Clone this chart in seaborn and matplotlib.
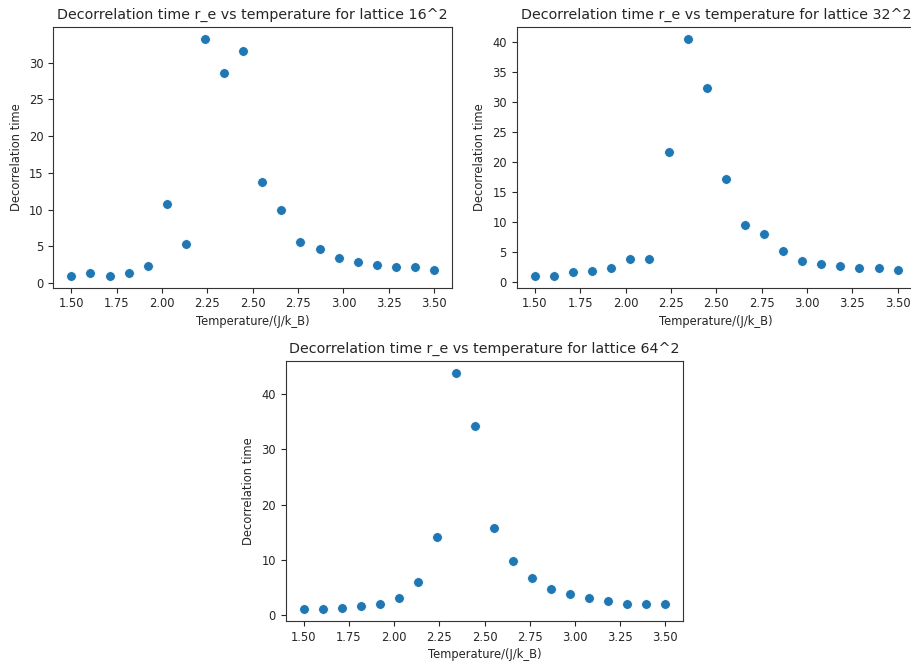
import matplotlib
matplotlib.use("Agg")
import matplotlib.pyplot as plt
import seaborn as sns
import pandas as pd

temperature = [1.5, 1.605, 1.711, 1.816, 1.921, 2.026, 2.132, 2.237, 2.342, 2.447,
               2.553, 2.658, 2.763, 2.868, 2.974, 3.079, 3.184, 3.289, 3.395, 3.5]

tau_16 = [1.0, 1.35, 1.0, 1.35, 2.35, 10.8, 5.4, 33.2, 28.6, 31.6,
          13.7, 9.95, 5.6, 4.7, 3.45, 2.95, 2.45, 2.15, 2.15, 1.8]
tau_32 = [0.95, 0.95, 1.55, 1.8, 2.2, 3.75, 3.75, 21.6, 40.4, 32.2,
          17.1, 9.5, 7.9, 5.1, 3.35, 2.95, 2.55, 2.2, 2.2, 1.95]
tau_64 = [1.05, 1.05, 1.25, 1.7, 2.1, 3.2, 6.0, 14.2, 43.8, 34.3,
          15.7, 9.9, 6.7, 4.7, 3.85, 3.2, 2.6, 2.1, 2.1, 2.1]

lattices = ["16^2", "32^2", "64^2"]
series = [tau_16, tau_32, tau_64]

plt.rcParams["text.color"] = "#262626"
plt.rcParams["axes.labelcolor"] = "#262626"
plt.rcParams["xtick.color"] = "#262626"
plt.rcParams["ytick.color"] = "#262626"
plt.rcParams["axes.edgecolor"] = "#333333"

W, H = 911, 663
fig = plt.figure(figsize=(W / 100, H / 100), dpi=100)
boxes = [
    (53.3, 27.3, 399.0, 260.4),
    (516.7, 27.3, 399.0, 260.4),
    (285.7, 361.3, 397.6, 260.0),
]

for (x0, y0, w, h), lat, vals in zip(boxes, lattices, series):
    ax = fig.add_axes([x0 / W, 1 - (y0 + h) / H, w / W, h / H])
    df = pd.DataFrame({"T": temperature, "tau": vals})
    sns.scatterplot(data=df, x="T", y="tau", ax=ax, s=50, color="#1f77b4",
                    edgecolor="white", linewidth=0.6)
    ax.set_title(f"Decorrelation time r_e vs temperature for lattice {lat}", fontsize=10.3)
    ax.set_xlabel("Temperature/(J/k_B)", fontsize=8.3, labelpad=3)
    ax.set_ylabel("Decorrelation time", fontsize=8.3, labelpad=4.5)
    ax.tick_params(labelsize=8.3)
    ax.set_xticks([1.5, 1.75, 2.0, 2.25, 2.5, 2.75, 3.0, 3.25, 3.5])

fig.savefig("out.png", dpi=100, facecolor="white")
